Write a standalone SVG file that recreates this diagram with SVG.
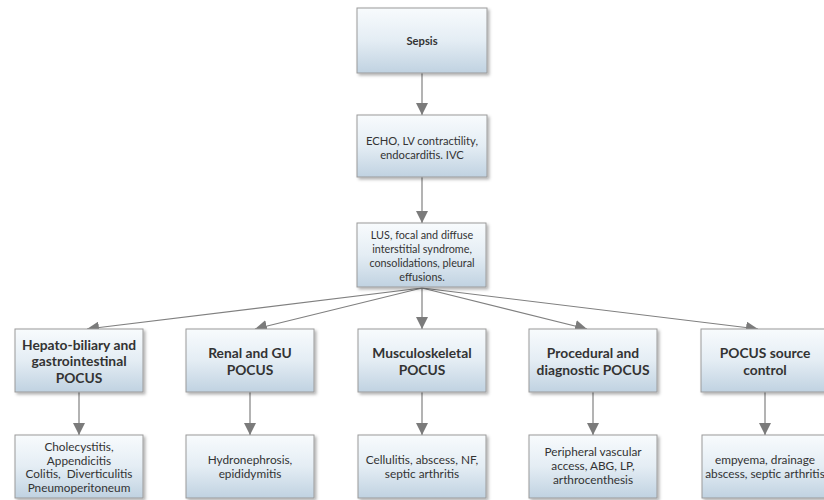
<svg xmlns="http://www.w3.org/2000/svg" width="824" height="500" viewBox="0 0 824 500">
<defs>
<linearGradient id="g" x1="0" y1="0" x2="0" y2="1">
<stop offset="0" stop-color="#f8fbfd"/>
<stop offset="0.5" stop-color="#e4edf4"/>
<stop offset="1" stop-color="#c0d2e1"/>
</linearGradient>
<filter id="sh" x="-10%" y="-10%" width="125%" height="130%">
<feDropShadow dx="2" dy="2" stdDeviation="1.5" flood-color="#000" flood-opacity="0.3"/>
</filter>
<marker id="ah" markerWidth="12" markerHeight="12" refX="12" refY="6" orient="auto" markerUnits="userSpaceOnUse">
<path d="M0,0 L12,6 L0,12 Z" fill="#7b7b7b"/>
</marker>
</defs>
<style>
rect.b{fill:url(#g);stroke:#9a9a9a;stroke-width:1;filter:url(#sh)}
text{font-family:Lato,"Open Sans","Liberation Sans",sans-serif;fill:#333;text-anchor:middle;white-space:pre}
.h{font-weight:bold;font-size:13.8px}
.s{font-size:11.8px}
.m{font-size:11.2px}
.l{font-size:10.8px}
.c line{stroke:#808080;stroke-width:1.2;marker-end:url(#ah)}
</style>
<rect width="824" height="500" fill="#fff"/>
<g class="c" id="connectors">
<line x1="422" y1="73" x2="422" y2="115"/>
<line x1="422" y1="177" x2="422" y2="223"/>
<line x1="422" y1="288" x2="422" y2="329"/>
<line x1="422" y1="288" x2="87" y2="329"/>
<line x1="422" y1="288" x2="255" y2="329"/>
<line x1="422" y1="288" x2="587" y2="329"/>
<line x1="422" y1="288" x2="758" y2="329"/>
<line x1="79" y1="392" x2="79" y2="435"/>
<line x1="250" y1="392" x2="250" y2="435"/>
<line x1="422" y1="392" x2="422" y2="435"/>
<line x1="593" y1="392" x2="593" y2="435"/>
<line x1="765" y1="392" x2="765" y2="435"/>
</g>
<g id="sepsis"><rect class="b" x="357" y="8" width="130" height="65"/><text class="m" x="422" y="45" font-weight="bold">Sepsis</text></g>
<g id="echo"><rect class="b" x="357" y="115" width="130" height="62"/><text class="m" x="422" y="145">ECHO, LV contractility,</text><text class="m" x="422" y="159">endocarditis. IVC</text></g>
<g id="lus"><rect class="b" x="357" y="223" width="129" height="64"/><text class="l" x="422" y="239">LUS, focal and diffuse</text><text class="l" x="422" y="253">interstitial syndrome,</text><text class="l" x="422" y="267">consolidations, pleural</text><text class="l" x="422" y="281">effusions.</text></g>
<g id="hepato"><rect class="b" x="15" y="329" width="128" height="63"/><text class="h" x="79" y="349.5">Hepato-biliary and</text><text class="h" x="79" y="366">gastrointestinal</text><text class="h" x="79" y="382.5">POCUS</text></g>
<g id="renal"><rect class="b" x="186" y="329" width="128" height="63"/><text class="h" x="250" y="357.5">Renal and GU</text><text class="h" x="250" y="374.5">POCUS</text></g>
<g id="musculo"><rect class="b" x="358" y="329" width="128" height="63"/><text class="h" x="422" y="357.5">Musculoskeletal</text><text class="h" x="422" y="374.5">POCUS</text></g>
<g id="procedural"><rect class="b" x="529" y="329" width="128" height="63"/><text class="h" x="593" y="357.5">Procedural and</text><text class="h" x="593" y="374.5">diagnostic POCUS</text></g>
<g id="source"><rect class="b" x="701" y="329" width="128" height="63"/><text class="h" x="765" y="357.5">POCUS source</text><text class="h" x="765" y="374.5">control</text></g>
<g id="hepato-d"><rect class="b" x="15" y="435" width="128" height="63"/><text class="s" x="79" y="451">Cholecystitis,</text><text class="s" x="79" y="464.5">Appendicitis</text><text class="s" x="79" y="478">Colitis,  Diverticulitis</text><text class="s" x="79" y="491.5">Pneumoperitoneum</text></g>
<g id="renal-d"><rect class="b" x="186" y="435" width="128" height="63"/><text class="s" x="250" y="464">Hydronephrosis,</text><text class="s" x="250" y="478">epididymitis</text></g>
<g id="musculo-d"><rect class="b" x="358" y="435" width="128" height="63"/><text class="s" x="422" y="464">Cellulitis, abscess, NF,</text><text class="s" x="422" y="478">septic arthritis</text></g>
<g id="procedural-d"><rect class="b" x="529" y="435" width="128" height="63"/><text class="s" x="593" y="456">Peripheral vascular</text><text class="s" x="593" y="470">access, ABG, LP,</text><text class="s" x="593" y="484">arthrocenthesis</text></g>
<g id="source-d"><rect class="b" x="702" y="435" width="128" height="63"/><text class="s" x="765" y="464">empyema, drainage</text><text class="s" x="765" y="478">abscess, septic arthritis</text></g>
</svg>
